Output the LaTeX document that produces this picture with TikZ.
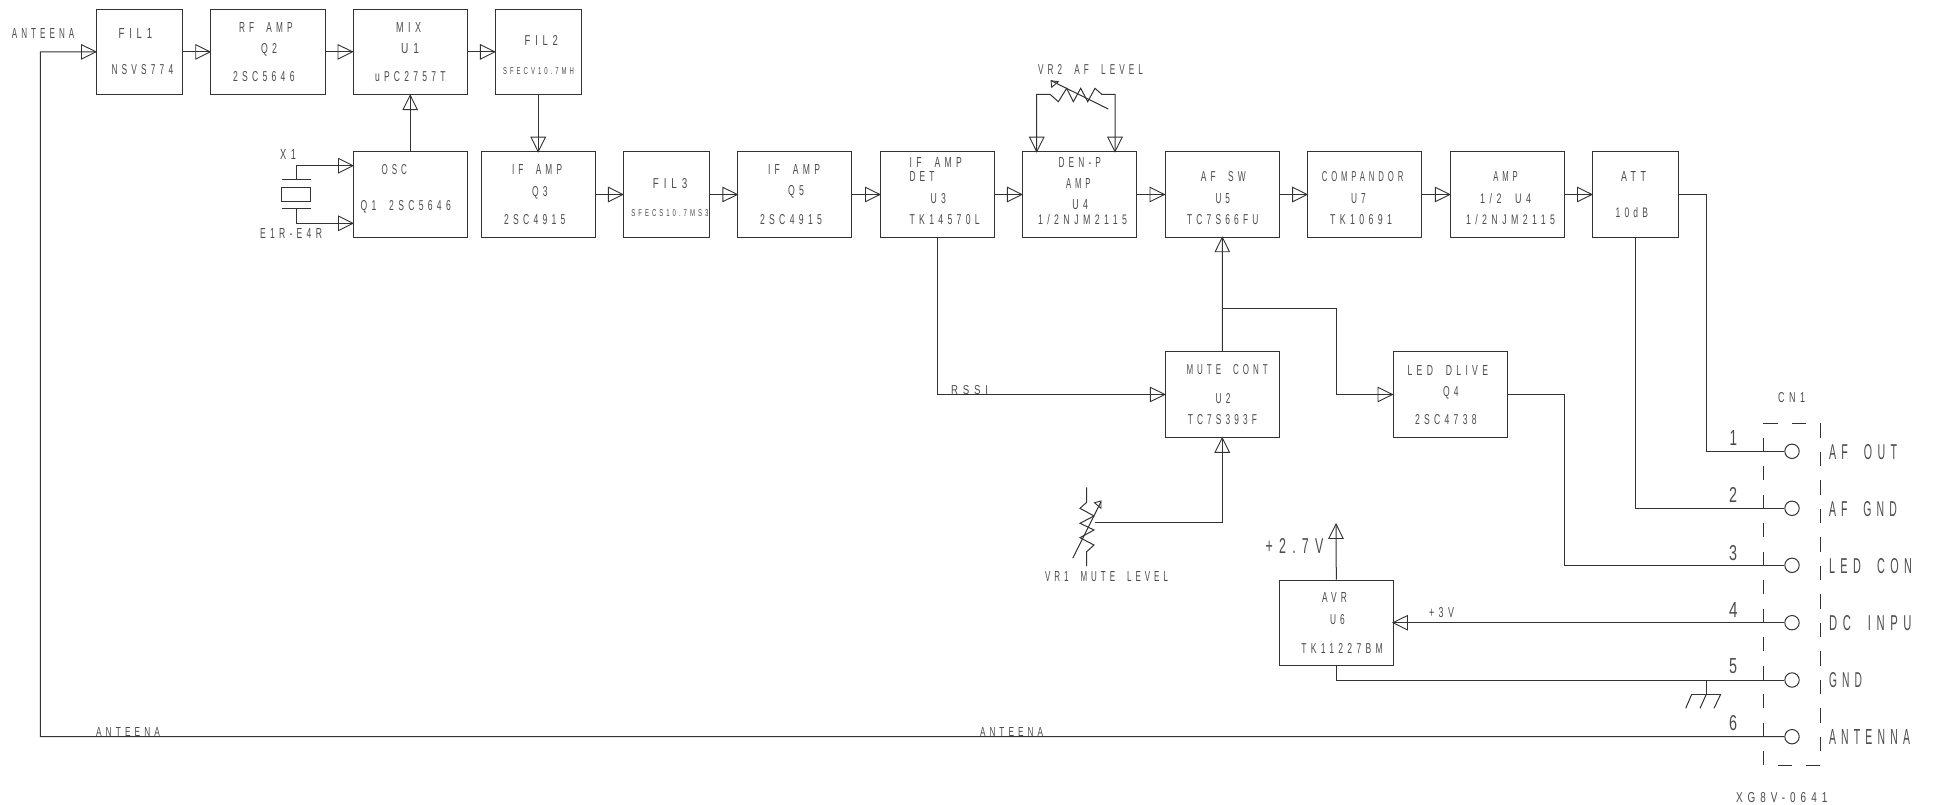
\documentclass[tikz,border=0pt]{standalone}
\usepackage{fontspec}
\usepackage{graphicx}
\setmainfont[LetterSpace=50]{Liberation Sans}
\usetikzlibrary{arrows.meta,calc}
\definecolor{ink}{gray}{0.2}
\definecolor{txt}{gray}{0.3}
\tikzset{
  wire/.style={draw=ink,line width=1pt},
  hd/.style={draw=ink,line width=.9pt,fill=none},
  blk/.style={draw=ink,line width=1pt,inner sep=0pt,minimum height=85.6pt},
  lbl/.style={inner sep=0pt,outer sep=0pt,text=txt,anchor=base},
  pin/.style={draw=ink,line width=1pt,circle,minimum size=14.4pt,inner sep=0pt},
  cn/.style={draw=ink,line width=.9pt,dash pattern=on 14.25pt off 14.25pt},
}
\newcommand{\ws}{\hspace{1.5em}}
\newcounter{lb}
% x1 x2 ycentre capheight text
\newcommand{\lab}[5]{%
  \stepcounter{lb}%
  \pgfmathsetmacro{\lcx}{(#1+#2)/2}%
  \pgfmathsetmacro{\lw}{(#2)-(#1)}%
  \pgfmathsetmacro{\lby}{#3+#4/2}%
  \node[lbl] (lab\arabic{lb}) at (\lcx,\lby) {\resizebox{\lw pt}{#4pt}{\fontsize{13}{15}\selectfont #5}};}
% open triangle: tip coordinate, angle of travel (up = 90)
\newcommand{\tri}[2]{%
  \draw[hd,shift={(#1)},rotate=#2] (0,0) -- (-14.5,-7.2) -- (-14.5,7.2) -- cycle;}
\newcommand{\blkn}[5]{% name x1 x2 y1 y2
  \pgfmathsetmacro{\bw}{(#3)-(#2)}%
  \pgfmathsetmacro{\bx}{(#2+#3)/2}%
  \pgfmathsetmacro{\by}{(#4+#5)/2}%
  \node[blk,minimum width=\bw pt] (#1) at (\bx,\by) {};}
\begin{document}
\begin{tikzpicture}[x=1pt,y=-1pt]
\path[use as bounding box,fill=white] (0,0) rectangle (1936,805);
\clip (0,0) rectangle (1916,805);
% blocks
\blkn{fila}{96.5}{182.7}{9}{94.7}
\blkn{rf}{210.7}{325}{9}{94.7}
\blkn{mix}{353}{467.4}{9}{94.7}
\blkn{filb}{495.4}{581}{9}{94.7}
\blkn{osc}{353}{467.4}{151.7}{237.3}
\blkn{ifa}{481}{595.5}{151.7}{237.3}
\blkn{filc}{623.4}{709.6}{151.7}{237.3}
\blkn{ifb}{737.8}{851.9}{151.7}{237.3}
\blkn{det}{880.5}{994.6}{151.7}{237.3}
\blkn{den}{1022.4}{1136.4}{151.7}{237.3}
\blkn{afsw}{1165}{1279.5}{151.7}{237.3}
\blkn{comp}{1307.6}{1421.4}{151.7}{237.3}
\blkn{amp}{1450.3}{1564}{151.7}{237.3}
\blkn{att}{1592.5}{1678.3}{151.7}{237.3}
\blkn{mute}{1165.3}{1279.2}{351.7}{437.3}
\blkn{led}{1393}{1507}{351.7}{437.3}
\blkn{avr}{1279.6}{1393}{580}{665.6}
% pins
\foreach \n/\y in {1/451.3,2/508.3,3/565.3,4/622.7,5/680,6/736.7}
  \node[pin] (p\n) at (1792,\y) {};
% free coordinates
\coordinate (antin) at (40.3,52);
\coordinate (antcorner) at (40.3,736.7);
\coordinate (fork) at (1222.3,308.7);
\coordinate (forkr) at (1336,308.7);
\coordinate (oscu) at (353,165.7);
\coordinate (oscd) at (353,223.3);
\coordinate (xu) at (296,165.7);
\coordinate (xd) at (296,223.3);
\coordinate (xup) at (296,180);
\coordinate (xdp) at (296,208.3);
\coordinate (tap) at (1094.9,522.7);
\coordinate (pv) at (1336,524);
\coordinate (gnd) at (1706.3,680);
\coordinate (gndb) at (1706.3,694.3);
% main chain
\draw[wire] (fila.east) -- (rf.west);
\draw[wire] (rf.east) -- (mix.west);
\draw[wire] (mix.east) -- (filb.west);
\draw[wire] (410.2,151.7) -- (mix.south);
\draw[wire] (538.2,94.7) -- (538.2,151.7);
\draw[wire] (ifa.east) -- (filc.west);
\draw[wire] (filc.east) -- (ifb.west);
\draw[wire] (ifb.east) -- (det.west);
\draw[wire] (det.east) -- (den.west);
\draw[wire] (den.east) -- (afsw.west);
\draw[wire] (afsw.east) -- (comp.west);
\draw[wire] (comp.east) -- (amp.west);
\draw[wire] (amp.east) -- (att.west);
\tri{rf.west}{0}\tri{mix.west}{0}\tri{filb.west}{0}\tri{fila.west}{0}
\tri{filc.west}{0}\tri{ifb.west}{0}\tri{det.west}{0}\tri{den.west}{0}
\tri{afsw.west}{0}\tri{comp.west}{0}\tri{amp.west}{0}\tri{att.west}{0}
\tri{mix.south}{90}
\tri{538.2,151.7}{-90}
% antenna
\draw[wire] (p6.west) -- (antcorner) -- (antin) -- (fila.west);
% crystal
\draw[wire] (oscu) -- (xu) -- (xup);
\draw[wire] (oscd) -- (xd) -- (xdp);
\tri{oscu}{0}\tri{oscd}{0}
\draw[wire] (281.7,180) -- (310.7,180);
\draw[wire] (281.7,208.3) -- (310.7,208.3);
\draw[wire] (281.7,187.3) rectangle (310.7,201.7);
% VR2
\coordinate (vrbl) at (1036.7,151.7);
\coordinate (vrbr) at (1115,151.7);
\draw[wire] (vrbl) -- (1036.7,94.3) -- (1050,94.3) -- (1058.3,101.7) -- (1066.7,88.3) -- (1073.3,101.7) -- (1080.7,88.3) -- (1087.7,101.7) -- (1095,88.3) -- (1101.7,94.3) -- (1115,94.3) -- (vrbr);
\tri{vrbl}{-90}\tri{vrbr}{-90}
\draw[wire] (1108.3,109) -- (1051,80.7);
\draw[hd] (1051,80.7) -- (1051.7,87.3) -- (1058.3,81.7) -- cycle;
% rssi / mute
\draw[wire] (det.south) -- (det.south |- mute.west) -- (mute.west);
\tri{mute.west}{0}
\draw[wire] (mute.north) -- (1222.3,237.3);
\tri{1222.3,237.3}{90}
\draw[wire] (fork) -- (forkr) -- (forkr |- led.west) -- (led.west);
\tri{led.west}{0}
% VR1
\draw[wire] (tap) -- (mute.south |- tap) -- (mute.south);
\tri{mute.south}{90}
\draw[wire] (1086.7,487.3) -- (1086.7,502.3) -- (1080,508.3) -- (1094,516) -- (1080,523.3) -- (1094,530) -- (1080,537.7) -- (1094,545) -- (1086.7,551.7) -- (1086.7,566);
\draw[wire] (1072.7,558.3) -- (1101,501.7);
\draw[hd] (1101,501) -- (1094.5,502.7) -- (1101,508.3) -- cycle;
% connector wires
\draw[wire] (att.east) -- (1706.4,194.5) -- (1706.4,451.3) -- (p1.west);
\draw[wire] (att.south) -- (att.south |- p2.west) -- (p2.west);
\draw[wire] (led.east) -- (1564,394.5) -- (1564,565.3) -- (p3.west);
\draw[wire] (p4.west) -- (avr.east |- p4.west);
\tri{1393,622.7}{180}
\draw[wire] (avr.north) -- (pv);
\tri{pv}{90}
\draw[wire] (avr.south) -- (avr.south |- p5.west) -- (p5.west);
% ground
\draw[wire] (gnd) -- (gndb);
\draw[wire] (1691.7,694.3) -- (1720.7,694.3);
\draw[wire] (1691.7,694.3) -- (1685.7,708.3);
\draw[wire] (1706.3,694.3) -- (1700,708.3);
\draw[wire] (1720.7,694.3) -- (1714,708.3);
% dashed CN1
\draw[cn] (1763.3,423.3) -- (1820.3,423.3) -- (1820.3,765.3) -- (1763.3,765.3) -- cycle;
% labels
\lab{11.9}{74.3}{34}{10}{ANTEENA}
\lab{118.6}{152.2}{34}{10}{FIL1}
\lab{111.5}{173.2}{70}{10}{NSVS774}
\lab{239}{292.6}{27.3}{10}{RF\ws AMP}
\lab{261}{277}{48.3}{10}{Q2}
\lab{233}{294.6}{76.7}{10}{2SC5646}
\lab{396}{421}{27.3}{10}{MIX}
\lab{401}{419}{48.3}{10}{U1}
\lab{375}{445.6}{76.7}{10}{uPC2757T}
\lab{524.7}{558}{40.7}{10}{FIL2}
\lab{503}{574}{71}{7}{SFECV10.7MH}
\lab{381.6}{407}{169.3}{10}{OSC}
\lab{360.6}{450.8}{205.7}{10}{Q1\ws 2SC5646}
\lab{512}{562}{169.3}{10}{IF\ws AMP}
\lab{532}{547.6}{191.7}{10}{Q3}
\lab{504}{565.4}{220}{10}{2SC4915}
\lab{652.8}{687.3}{184}{10}{FIL3}
\lab{631.4}{708.4}{213.3}{7}{SFECS10.7MS3}
\lab{768}{820}{170}{10}{IF\ws AMP}
\lab{788}{804}{191}{10}{Q5}
\lab{760}{822}{220}{10}{2SC4915}
\lab{909.6}{961.8}{162.3}{10}{IF\ws AMP}
\lab{909.6}{934.4}{176.7}{10}{DET}
\lab{930.6}{946}{198.3}{10}{U3}
\lab{909.6}{979.8}{220}{10}{TK14570L}
\lab{1058.6}{1101}{162.3}{10}{DEN-P}
\lab{1066}{1090.5}{183.3}{10}{AMP}
\lab{1072.4}{1088}{205}{10}{U4}
\lab{1038}{1127}{220}{10}{1/2NJM2115}
\lab{1200.8}{1245.8}{176.7}{10}{AF\ws SW}
\lab{1215.5}{1230}{198.3}{10}{U5}
\lab{1187}{1258.5}{220}{10}{TC7S66FU}
\lab{1321.8}{1403.4}{176.7}{10}{COMPANDOR}
\lab{1351}{1365.8}{198.3}{10}{U7}
\lab{1330}{1392}{220}{10}{TK10691}
\lab{1493.4}{1517.7}{176.7}{10}{AMP}
\lab{1480}{1531}{198.3}{10}{1/2\ws U4}
\lab{1466}{1555}{220}{10}{1/2NJM2115}
\lab{1621}{1646}{176.7}{10}{ATT}
\lab{1615.6}{1648}{212.7}{10}{10dB}
\lab{1407.6}{1488}{370}{10}{LED\ws DLIVE}
\lab{1443}{1458.7}{391.7}{10}{Q4}
\lab{1415}{1476.7}{419.3}{10}{2SC4738}
\lab{1186.6}{1267.7}{369.3}{10}{MUTE\ws CONT}
\lab{1215.5}{1230.5}{398.3}{10}{U2}
\lab{1187.8}{1257}{419.3}{10}{TC7S393F}
\lab{1322}{1347}{597.7}{10}{AVR}
\lab{1330}{1344.8}{619.3}{10}{U6}
\lab{1301.3}{1382.8}{648.3}{10}{TK11227BM}
\lab{1265.7}{1323.4}{545.7}{15}{+2.7V}
\lab{1429}{1454}{612.3}{10}{+3V}
\lab{1038}{1143}{69.3}{10}{VR2\ws AF\ws LEVEL}
\lab{1045}{1168}{576}{10}{VR1\ws MUTE\ws LEVEL}
\lab{951}{988}{390}{9}{RSSI}
\lab{96}{160}{731.5}{9}{ANTEENA}
\lab{980}{1043}{731.5}{9}{ANTEENA}
\lab{280}{296}{155}{10}{X1}
\lab{260}{322}{234}{10}{E1R-E4R}
\lab{1778}{1805}{397.3}{10}{CN1}
\lab{1736}{1827.3}{797.3}{10}{XG8V-0641}
\lab{1729.5}{1737}{438}{15}{1}
\lab{1729}{1737}{495}{15}{2}
\lab{1729}{1737}{552.7}{15}{3}
\lab{1729}{1737.5}{610}{15}{4}
\lab{1729}{1737}{665.7}{15}{5}
\lab{1729}{1737}{722.7}{15}{6}
\lab{1829}{1897}{451.7}{15}{AF\ws OUT}
\lab{1829}{1897}{508.7}{15}{AF\ws GND}
\lab{1829}{1924}{566}{15}{LED\ws CONT}
\lab{1829}{1924}{623}{15}{DC\ws INPUT}
\lab{1829}{1862}{680.3}{15}{GND}
\lab{1829}{1910}{737.3}{15}{ANTENNA}
\end{tikzpicture}
\end{document}
